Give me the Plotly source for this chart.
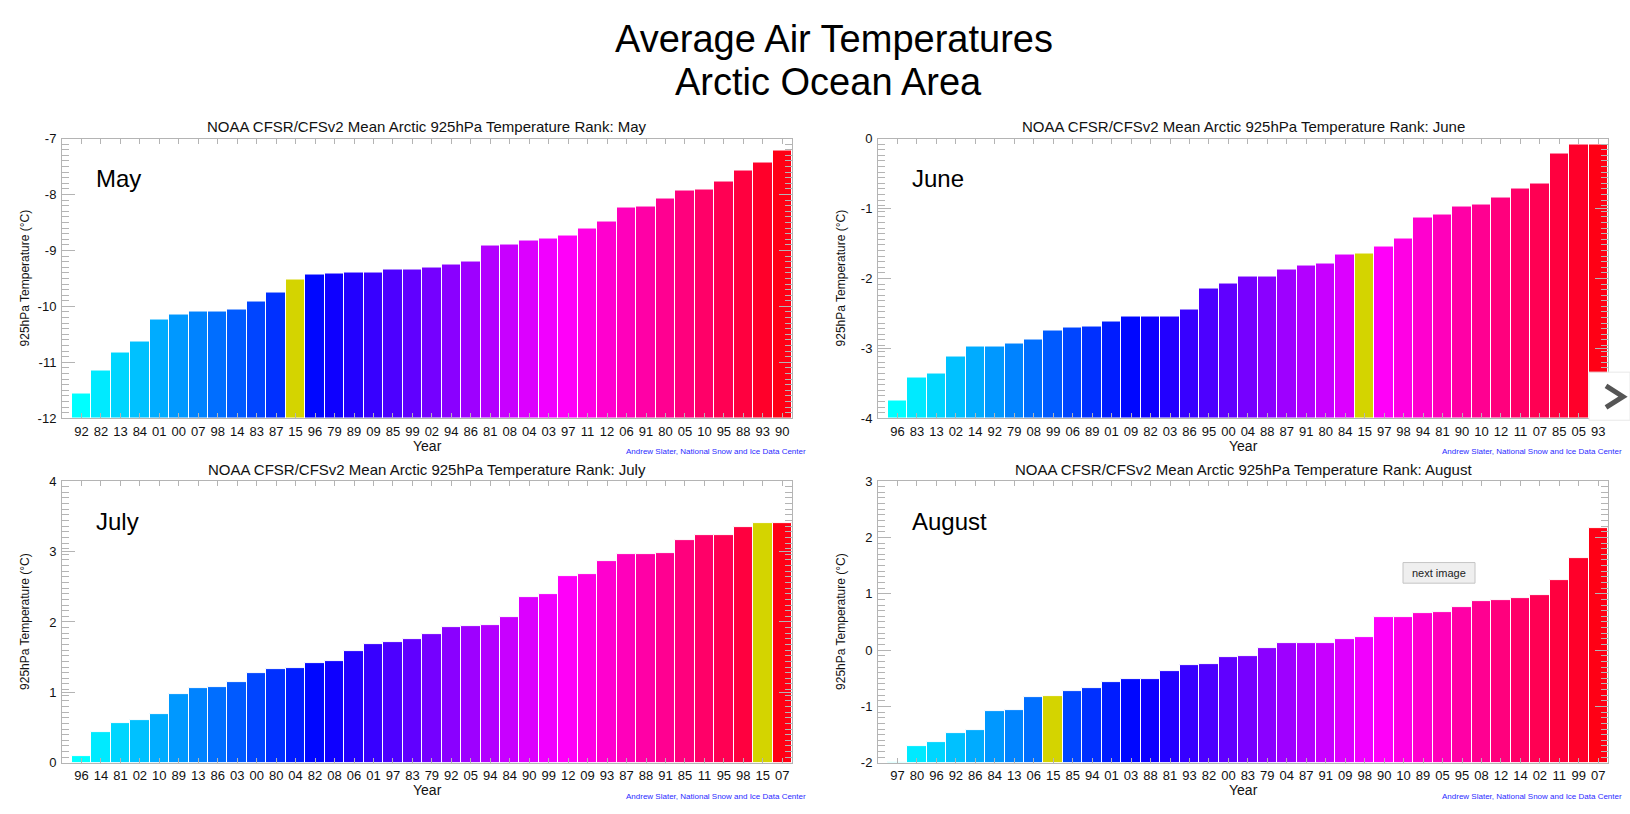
import colorsys
import plotly.graph_objects as go

W, H = 1630, 814

# ---------------- data ----------------
may_years = ["92","82","13","84","01","00","07","98","14","83","87","15","96","79","89","09","85","99","02",
             "94","86","81","08","04","03","97","11","12","06","91","80","05","10","95","88","93","90"]
may_vals = [-11.55,-11.15,-10.83,-10.63,-10.23,-10.15,-10.09,-10.09,-10.05,-9.91,-9.76,-9.52,-9.43,-9.42,
            -9.39,-9.39,-9.35,-9.34,-9.31,-9.25,-9.19,-8.91,-8.90,-8.83,-8.78,-8.73,-8.61,-8.49,-8.23,-8.22,
            -8.08,-7.93,-7.91,-7.77,-7.58,-7.42,-7.22]

jun_years = ["96","83","13","02","14","92","79","08","99","06","89","01","09","82","03","86","95","00","04",
             "88","87","91","80","84","15","97","98","94","81","90","10","12","11","07","85","05","93"]
jun_vals = [-3.75,-3.42,-3.36,-3.11,-2.98,-2.97,-2.93,-2.88,-2.75,-2.70,-2.69,-2.62,-2.55,-2.54,-2.54,-2.44,
            -2.14,-2.08,-1.98,-1.97,-1.87,-1.82,-1.79,-1.66,-1.65,-1.55,-1.43,-1.13,-1.09,-0.97,-0.94,-0.84,
            -0.72,-0.65,-0.22,-0.08,-0.08]

jul_years = ["96","14","81","02","10","89","13","86","03","00","80","04","82","08","06","01","97","83","79",
             "92","05","94","84","90","99","12","09","93","87","88","91","85","11","95","98","15","07"]
jul_vals = [0.09,0.44,0.57,0.61,0.69,0.97,1.06,1.07,1.15,1.28,1.33,1.35,1.41,1.45,1.59,1.69,1.72,1.75,1.83,
            1.93,1.94,1.96,2.07,2.35,2.40,2.65,2.68,2.86,2.96,2.97,2.98,3.16,3.23,3.24,3.35,3.40,3.41]

aug_years = ["97","80","96","92","86","84","13","06","15","85","94","01","03","88","81","93","82","00","83",
             "79","04","87","91","09","98","90","10","89","05","95","08","12","14","02","11","99","07"]
aug_vals = [-1.98,-1.70,-1.63,-1.47,-1.42,-1.09,-1.06,-0.84,-0.82,-0.72,-0.67,-0.57,-0.52,-0.51,-0.38,-0.26,
            -0.25,-0.12,-0.10,0.03,0.12,0.12,0.13,0.20,0.23,0.59,0.59,0.65,0.68,0.77,0.87,0.89,0.93,0.97,
            1.24,1.63,2.16]

months = ["May", "June", "July", "August"]
highlight_year = "15"

# ---------------- layout helpers ----------------
def px(x):
    return x / W

def py(y):
    return 1 - y / H

FONT = "Liberation Sans, Arial, Helvetica, sans-serif"
AXC = "#b4b4b4"

panels = [
    dict(name="May", years=may_years, vals=may_vals, yr=(-12, -7), xd=(62, 792), yd=(134, 419), minor=0.1),
    dict(name="June", years=jun_years, vals=jun_vals, yr=(-4, 0), xd=(878, 1608), yd=(134, 419), minor=0.08),
    dict(name="July", years=jul_years, vals=jul_vals, yr=(0, 4), xd=(62, 792), yd=(483, 770), minor=0.08),
    dict(name="August", years=aug_years, vals=aug_vals, yr=(-2, 3), xd=(878, 1608), yd=(483, 770), minor=0.1),
]

def bar_color(i, n, label):
    if label == highlight_year:
        return "#d4d400"
    h = (180 + i * 175.0 / (n - 1)) / 360.0
    r, g, b = colorsys.hsv_to_rgb(h % 1.0, 1, 1)
    return "rgb(%d,%d,%d)" % (round(r * 255), round(g * 255), round(b * 255))

fig = go.Figure()
annotations = []
shapes = []
layout_axes = {}

for k, p in enumerate(panels):
    idx = "" if k == 0 else str(k + 1)
    n = len(p["years"])
    colors = [bar_color(i, n, lab) for i, lab in enumerate(p["years"])]
    base = p["yr"][0]
    fig.add_trace(go.Bar(
        x=p["years"], y=[v - base for v in p["vals"]], base=base,
        marker=dict(color=colors, line=dict(color="white", width=1)),
        width=1.0, xaxis="x" + idx, yaxis="y" + idx, showlegend=False,
    ))
    x0, x1 = p["xd"]
    y0, y1 = p["yd"]
    tvals = list(range(p["yr"][0], p["yr"][1] + 1))
    ttext = [str(v) for v in tvals]  # plain hyphen minus like the original
    layout_axes["xaxis" + idx] = dict(
        type="category", domain=[px(x0), px(x1)], range=[-1, n - 0.5],
        anchor="y" + idx, showline=True, linecolor=AXC, linewidth=1, mirror="ticks",
        ticks="inside", ticklen=5, tickcolor=AXC, tickwidth=1,
        tickfont=dict(family=FONT, size=13, color="#111"), showgrid=False, zeroline=False,
        fixedrange=True, ticklabelstandoff=1,
    )
    layout_axes["yaxis" + idx] = dict(
        domain=[py(y1), py(y0)], range=list(p["yr"]), anchor="x" + idx,
        showline=True, linecolor=AXC, linewidth=1, mirror="ticks",
        ticks="inside", ticklen=13, tickcolor=AXC, tickwidth=1,
        tickmode="array", tickvals=tvals, ticktext=ttext,
        minor=dict(ticks="inside", ticklen=7, dtick=p["minor"], tickcolor=AXC, tickwidth=1, showgrid=False),
        tickfont=dict(family=FONT, size=13, color="#111"), showgrid=False, zeroline=False,
        fixedrange=True, ticklabelstandoff=2,
    )
    cx = (x0 + x1) / 2
    # subplot title
    annotations.append(dict(
        text="NOAA CFSR/CFSv2 Mean Arctic 925hPa Temperature Rank: " + p["name"],
        x=px(cx), y=py(y0 - 12), xref="paper", yref="paper", showarrow=False,
        xanchor="center", yanchor="middle", font=dict(family=FONT, size=15, color="#111")))
    # month label inside plot
    annotations.append(dict(
        text=p["name"], x=px(x0 + 32), y=py(y0 + 41), xref="paper", yref="paper", showarrow=False,
        xanchor="left", yanchor="middle", font=dict(family=FONT, size=24, color="#000")))
    # y axis title
    annotations.append(dict(
        text="925hPa Temperature (°C)", x=px(x0 - 37), y=py((y0 + y1) / 2), xref="paper", yref="paper",
        showarrow=False, textangle=-90, xanchor="center", yanchor="middle",
        font=dict(family=FONT, size=12, color="#111")))
    # x axis title
    annotations.append(dict(
        text="Year", x=px(cx), y=py(y1 + 28), xref="paper", yref="paper", showarrow=False,
        xanchor="center", yanchor="middle", font=dict(family=FONT, size=14, color="#111")))
    # credit
    annotations.append(dict(
        text="Andrew Slater, National Snow and Ice Data Center", x=px(x1 + 16), y=py(y1 + 34),
        xref="paper", yref="paper", showarrow=False, xanchor="right", yanchor="middle",
        font=dict(family=FONT, size=8, color="#2b2bff")))

# main title
annotations.append(dict(text="Average Air Temperatures", x=px(834), y=py(33), xref="paper", yref="paper",
                        showarrow=False, xanchor="center", yanchor="middle",
                        font=dict(family=FONT, size=38, color="#000")))
annotations.append(dict(text="Arctic Ocean Area", x=px(829), y=py(76), xref="paper", yref="paper",
                        showarrow=False, xanchor="center", yanchor="middle",
                        font=dict(family=FONT, size=38, color="#000")))

# page overlays: slideshow arrow and "next image" button
shapes.append(dict(type="rect", xref="paper", yref="paper", x0=px(1589), x1=px(1630), y0=py(421), y1=py(372),
                   fillcolor="white", line=dict(color="#e8e8e8", width=1), layer="above"))
shapes.append(dict(type="path", xref="paper", yref="paper",
                   path="M %f,%f L %f,%f L %f,%f" % (px(1606), py(386), px(1623), py(397), px(1606), py(408)),
                   line=dict(color="#555555", width=5), layer="above"))
shapes.append(dict(type="rect", xref="paper", yref="paper", x0=px(1403), x1=px(1475), y0=py(587), y1=py(566),
                   fillcolor="#efefef", line=dict(color="#c4c4c4", width=1), layer="above"))
annotations.append(dict(text="next image", x=px(1439), y=py(576.5), xref="paper", yref="paper",
                        showarrow=False, xanchor="center", yanchor="middle",
                        font=dict(family=FONT, size=11, color="#222")))

fig.update_layout(
    width=W, height=H, margin=dict(l=0, r=0, t=0, b=0),
    paper_bgcolor="white", plot_bgcolor="white",
    bargap=0, annotations=annotations, shapes=shapes, showlegend=False,
    **layout_axes,
)

fig.write_html("out.html", config={"displayModeBar": False})
